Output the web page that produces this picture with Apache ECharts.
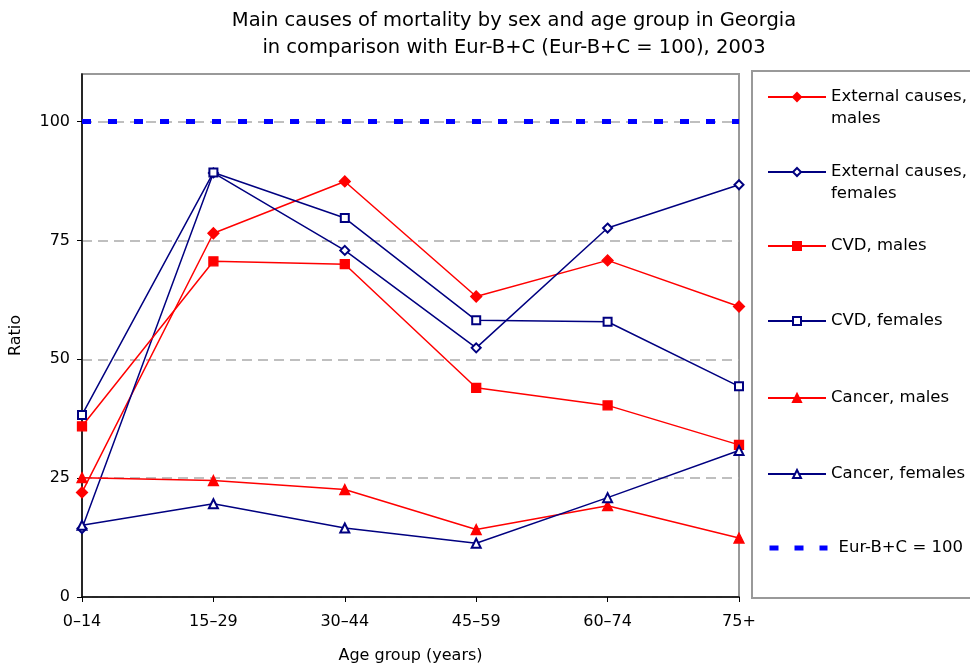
<!DOCTYPE html>
<html>
<head>
<meta charset="utf-8">
<script src="https://cdn.jsdelivr.net/npm/echarts@6/dist/echarts.min.js"></script>
<style>html,body{margin:0;padding:0;background:#fff;}#c{width:970px;height:669px;}</style>
</head>
<body>
<div id="c"></div>
<script>
const categories = ['0–14', '15–29', '30–44', '45–59', '60–74', '75+'];
const externalMales   = [22.0, 76.5, 87.4, 63.2, 70.8, 61.1];
const externalFemales = [14.4, 89.2, 72.9, 52.4, 77.6, 86.7];
const cvdMales        = [35.9, 70.6, 70.0, 44.0, 40.3, 32.0];
const cvdFemales      = [38.3, 89.3, 79.7, 58.2, 57.9, 44.3];
const cancerMales     = [25.1, 24.5, 22.6, 14.2, 19.2, 12.4];
const cancerFemales   = [15.1, 19.6, 14.5, 11.3, 20.9, 30.8];
const reference       = [100, 100, 100, 100, 100, 100];
const yTicks = [0, 25, 50, 75, 100];

const FONT = 'DejaVu Sans';
const RED = '#FF0000', NAVY = '#000080', BLUE = '#0000FF';

function lineSeries(name, data, color, symbol, size) {
  return {
    name, type: 'line', data, symbol, symbolSize: size,
    lineStyle: { color, width: 1.5 },
    itemStyle: { color, borderColor: color, borderWidth: 1.3 },
    emphasis: { disabled: true }, animation: false, z: 3
  };
}

const series = [
  lineSeries('External causes, males', externalMales, RED, 'diamond', 11),
  lineSeries('External causes, females', externalFemales, NAVY, 'emptyDiamond', 9),
  lineSeries('CVD, males', cvdMales, RED, 'rect', 9),
  lineSeries('CVD, females', cvdFemales, NAVY, 'emptyRect', 8),
  lineSeries('Cancer, males', cancerMales, RED, 'triangle', 10),
  lineSeries('Cancer, females', cancerFemales, NAVY, 'emptyTriangle', 9),
  {
    name: 'Eur-B+C = 100', type: 'line', data: reference, symbol: 'none',
    lineStyle: { color: BLUE, width: 5, type: [9, 17] },
    itemStyle: { color: BLUE },
    emphasis: { disabled: true }, animation: false, z: 4
  }
];

const legendNames = series.map(s => s.name);
const legendLabels = {
  'External causes, males': '\nExternal causes,\nmales',
  'External causes, females': '\nExternal causes,\nfemales'
};
const legendCenters = [97, 172, 246, 321, 398, 474, 548];

const legends = legendNames.map((n, i) => {
  const twoLine = !!legendLabels[n];
  const isRef = n === 'Eur-B+C = 100';
  return {
    data: [isRef ? {
      name: n,
      itemStyle: { opacity: 0 },
      lineStyle: { color: BLUE, width: 5, type: [9, 16], cap: 'butt' }
    } : n],
    left: 767,
    top: legendCenters[i] - (twoLine ? 33 : 11),
    padding: 0,
    itemWidth: 58,
    itemHeight: 10,
    itemGap: 0,
    selectedMode: false,
    formatter: name => legendLabels[name] || name,
    textStyle: {
      fontFamily: FONT, fontSize: 16.5, color: '#000', lineHeight: 22,
      padding: [0, 0, 0, isRef ? 6 : 0]
    }
  };
});

const chart = echarts.init(document.getElementById('c'), null, { renderer: 'canvas' });
chart.setOption({
  animation: false,
  backgroundColor: '#fff',
  title: {
    text: 'Main causes of mortality by sex and age group in Georgia\nin comparison with Eur-B+C (Eur-B+C = 100), 2003',
    left: 514, top: 7, textAlign: 'center', padding: 0,
    textStyle: { fontFamily: FONT, fontSize: 19.5, fontWeight: 'normal', color: '#000', lineHeight: 27 }
  },
  graphic: [{
    type: 'rect', z: -1,
    shape: { x: 752, y: 71, width: 240, height: 527 },
    style: { fill: '#fff', stroke: '#999', lineWidth: 2 }
  }],
  legend: legends,
  grid: {
    left: 82, right: 231, top: 74, bottom: 72,
    outerBoundsMode: 'none', containLabel: false,
    show: true, borderColor: '#999', borderWidth: 2, backgroundColor: '#fff'
  },
  xAxis: {
    type: 'category', data: categories, boundaryGap: false,
    name: 'Age group (years)', nameLocation: 'middle', nameGap: 51,
    nameTextStyle: { fontFamily: FONT, fontSize: 16, color: '#000' },
    axisLine: { lineStyle: { color: '#000', width: 1.5 } },
    axisTick: { show: true, length: 5, alignWithLabel: true, lineStyle: { color: '#000' } },
    axisLabel: { fontFamily: FONT, fontSize: 16, color: '#000', margin: 17 },
    splitLine: { show: false }
  },
  yAxis: {
    type: 'value', min: 0, max: 110, interval: 25,
    name: 'Ratio', nameLocation: 'middle', nameGap: 58, nameRotate: 90,
    nameTextStyle: { fontFamily: FONT, fontSize: 16, color: '#000' },
    axisLine: { show: true, lineStyle: { color: '#000', width: 1.5 } },
    axisTick: { show: true, length: 5, lineStyle: { color: '#000' }, customValues: yTicks },
    axisLabel: { fontFamily: FONT, fontSize: 16, color: '#000', margin: 12, customValues: yTicks },
    splitLine: { show: true, lineStyle: { color: '#aaa', width: 1.5, type: [10, 6] } }
  },
  series
});
</script>
</body>
</html>
